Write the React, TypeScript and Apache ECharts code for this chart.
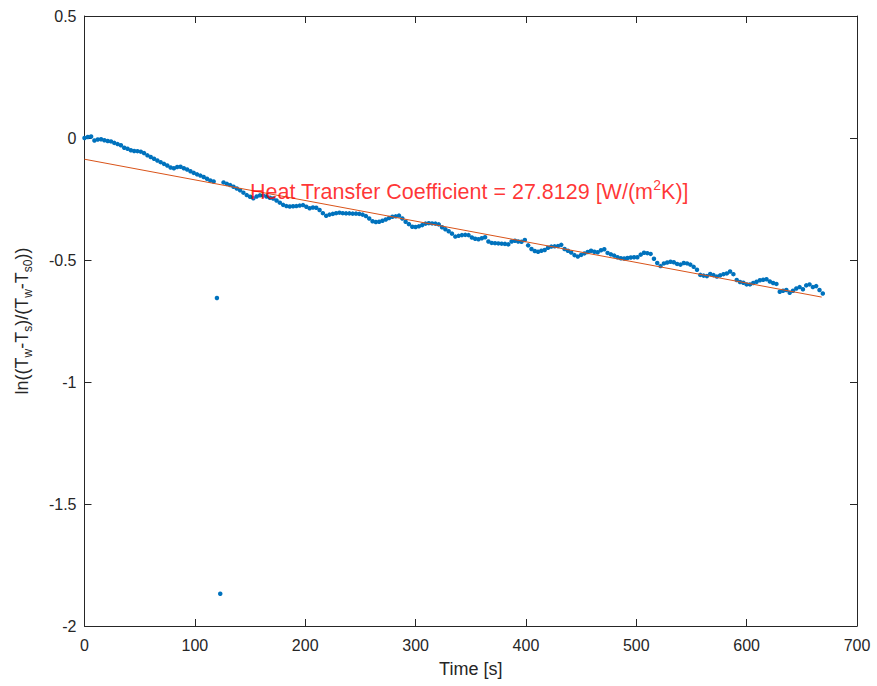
import React, { useEffect, useRef } from "react";
import * as echarts from "echarts";

// Sample interval of the measurement series (s)
const sampleStep = 3;
// ln((Tw-Ts)/(Tw-Ts0)) values, one per sample
const lnRatio = [
  0.000, 0.004, 0.006, -0.010, -0.006, -0.005, -0.009, -0.012, -0.014, -0.020,
  -0.025, -0.030, -0.040, -0.044, -0.050, -0.053, -0.054, -0.056, -0.062, -0.071,
  -0.078, -0.085, -0.092, -0.099, -0.106, -0.113, -0.121, -0.124, -0.119, -0.118,
  -0.124, -0.129, -0.136, -0.143, -0.149, -0.154, -0.160, -0.167, -0.174, -0.178,
  -0.656, -1.868, -0.182, -0.188, -0.193, -0.200, -0.207, -0.214, -0.224, -0.234,
  -0.241, -0.247, -0.240, -0.235, -0.236, -0.240, -0.245, -0.248, -0.256, -0.265,
  -0.274, -0.279, -0.281, -0.280, -0.279, -0.277, -0.275, -0.282, -0.288, -0.285,
  -0.286, -0.295, -0.308, -0.319, -0.314, -0.311, -0.308, -0.306, -0.308, -0.309,
  -0.309, -0.310, -0.310, -0.311, -0.314, -0.320, -0.330, -0.341, -0.344, -0.343,
  -0.339, -0.334, -0.328, -0.323, -0.321, -0.318, -0.330, -0.343, -0.353, -0.364,
  -0.365, -0.362, -0.357, -0.351, -0.349, -0.350, -0.351, -0.354, -0.366, -0.374,
  -0.382, -0.392, -0.404, -0.401, -0.398, -0.397, -0.398, -0.408, -0.413, -0.415,
  -0.411, -0.407, -0.424, -0.430, -0.431, -0.432, -0.433, -0.434, -0.436, -0.424,
  -0.421, -0.424, -0.425, -0.418, -0.440, -0.455, -0.463, -0.466, -0.462, -0.459,
  -0.450, -0.445, -0.444, -0.443, -0.438, -0.455, -0.462, -0.469, -0.480, -0.486,
  -0.479, -0.473, -0.467, -0.462, -0.466, -0.468, -0.460, -0.456, -0.471, -0.477,
  -0.482, -0.489, -0.493, -0.494, -0.492, -0.490, -0.489, -0.489, -0.478, -0.470,
  -0.472, -0.475, -0.495, -0.512, -0.525, -0.514, -0.510, -0.507, -0.509, -0.516,
  -0.519, -0.512, -0.514, -0.519, -0.528, -0.540, -0.561, -0.564, -0.566, -0.557,
  -0.562, -0.568, -0.563, -0.558, -0.555, -0.547, -0.558, -0.582, -0.590, -0.593,
  -0.600, -0.600, -0.594, -0.589, -0.583, -0.581, -0.579, -0.588, -0.594, -0.598,
  -0.630, -0.626, -0.623, -0.634, -0.626, -0.617, -0.611, -0.620, -0.604, -0.600,
  -0.611, -0.607, -0.623, -0.637,
];
const sampleTimes = lnRatio.map((_, i) => i * sampleStep);

// Linear fit endpoints
const fitTimes = [0, 668];
const fitValues = [-0.087, -0.652];

// Annotation
const annotationPos = [150, -0.22];
const hValue = "27.8129";

const xTicks = { min: 0, max: 700, interval: 100 };
const yTicks = { min: -2, max: 0.5, interval: 0.5 };

const FONT = "'Liberation Sans', Arial, Helvetica, sans-serif";
const AX = "#262626";

export default function App() {
  const ref = useRef<HTMLDivElement>(null);
  useEffect(() => {
    document.body.style.margin = "0";
    const chart = echarts.init(ref.current!, null, { renderer: "svg" });
    const scatterData = sampleTimes.map((t, i) => [t, lnRatio[i]]);
    const fitData = fitTimes.map((t, i) => [t, fitValues[i]]);
    const boxAxis = {
      axisLine: { show: true, onZero: false, lineStyle: { color: AX, width: 1 } },
      axisTick: { show: true, inside: true, length: 7, lineStyle: { color: AX } },
      axisLabel: { show: false },
      splitLine: { show: false },
    };
    chart.setOption({
      animation: false,
      backgroundColor: "#ffffff",
      textStyle: { fontFamily: FONT },
      grid: { left: 84.5, right: 20, top: 16, bottom: 60, containLabel: false },
      xAxis: [
        {
          type: "value",
          ...xTicks,
          position: "bottom",
          name: "Time [s]",
          nameLocation: "middle",
          nameGap: 34,
          nameTextStyle: { fontSize: 18, color: AX, fontFamily: FONT },
          axisLine: { show: true, onZero: false, lineStyle: { color: AX, width: 1 } },
          axisTick: { show: true, inside: true, length: 7, lineStyle: { color: AX } },
          axisLabel: { show: true, margin: 11, fontSize: 16, color: AX, fontFamily: FONT },
          splitLine: { show: false },
        },
        { type: "value", ...xTicks, position: "top", ...boxAxis },
      ],
      yAxis: [
        {
          type: "value",
          ...yTicks,
          position: "left",
          name: "{n|ln((T}{s|w}{n|-T}{s|s}{n|)/(T}{s|w}{n|-T}{s|s0}{n|))}",
          nameLocation: "middle",
          nameGap: 51,
          nameRotate: 90,
          nameTextStyle: {
            color: AX,
            fontFamily: FONT,
            rich: {
              n: { fontSize: 18, lineHeight: 24, color: AX, fontFamily: FONT },
              s: { fontSize: 12, lineHeight: 12, verticalAlign: "bottom", color: AX, fontFamily: FONT },
            },
          },
          axisLine: { show: true, onZero: false, lineStyle: { color: AX, width: 1 } },
          axisTick: { show: true, inside: true, length: 7, lineStyle: { color: AX } },
          axisLabel: { show: true, margin: 8, fontSize: 16, color: AX, fontFamily: FONT },
          splitLine: { show: false },
        },
        { type: "value", ...yTicks, position: "right", ...boxAxis },
      ],
      series: [
        {
          type: "scatter",
          data: scatterData,
          symbol: "circle",
          symbolSize: 4.5,
          itemStyle: { color: "#0072BD", opacity: 1 },
          z: 2,
        },
        {
          type: "line",
          data: fitData,
          showSymbol: false,
          symbol: "none",
          lineStyle: { color: "#D95319", width: 1 },
          z: 3,
        },
        {
          type: "scatter",
          data: [annotationPos],
          symbolSize: 0,
          z: 4,
          label: {
            show: true,
            position: "right",
            distance: 0,
            formatter: `{a|Heat Transfer Coefficient = ${hValue} [W/(m}{s|2}{a|K)]}`,
            rich: {
              a: { fontSize: 21.5, lineHeight: 28, color: "#FF0000", fontFamily: FONT },
              s: { fontSize: 14, lineHeight: 14, verticalAlign: "top", color: "#FF0000", fontFamily: FONT },
            },
          },
        },
      ],
    });
    return () => chart.dispose();
  }, []);
  return <div ref={ref} style={{ width: 877, height: 686 }} />;
}
